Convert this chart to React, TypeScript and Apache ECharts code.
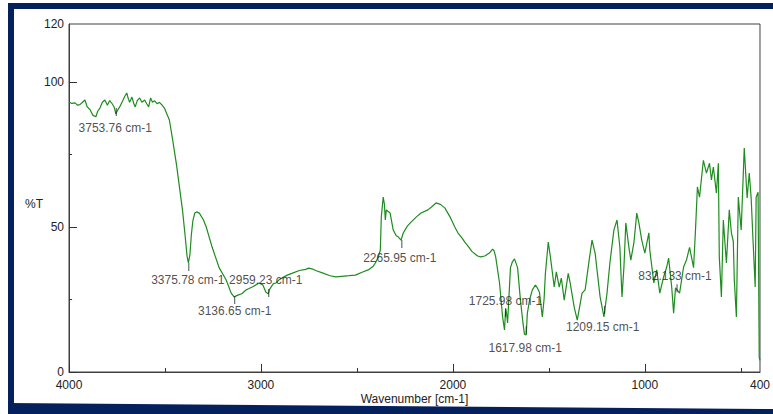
import React, { useEffect, useRef } from "react";
import * as echarts from "echarts";

// Wavenumber (cm-1) and %T
const wavenumbers = [
  4000, 3985, 3969, 3955, 3943, 3930, 3917, 3905, 3891, 3875, 3860, 3850, 3839, 3826, 3813, 3800,
  3788, 3775, 3765, 3756, 3745, 3736, 3720, 3710, 3699, 3690, 3684, 3672, 3662, 3655, 3645, 3632,
  3620, 3606, 3595, 3585, 3575, 3565, 3554, 3540, 3529, 3515, 3503, 3490, 3477, 3461, 3440, 3425,
  3409, 3395, 3385, 3378, 3370, 3363, 3355, 3345, 3335, 3321, 3300, 3285, 3254, 3218, 3181, 3155,
  3140, 3120, 3100, 3078, 3062, 3040, 3010, 2990, 2974, 2962, 2955, 2945, 2935, 2922, 2907, 2880,
  2860, 2839, 2800, 2767, 2751, 2730, 2715, 2680, 2640, 2611, 2580, 2540, 2508, 2470, 2441, 2415,
  2404, 2390, 2378, 2373, 2363, 2357, 2352, 2347, 2340, 2327, 2311, 2295, 2285, 2270, 2258, 2249,
  2235, 2218, 2190, 2166, 2130, 2110, 2088, 2065, 2042, 2015, 1990, 1974, 1950, 1938, 1922, 1900,
  1871, 1855, 1834, 1810, 1793, 1785, 1777, 1757, 1745, 1741, 1731, 1725, 1720, 1715, 1700, 1690,
  1679, 1663, 1648, 1635, 1627, 1618, 1612, 1600, 1586, 1570, 1560, 1549, 1534, 1525, 1518, 1503,
  1492, 1472, 1461, 1446, 1435, 1420, 1399, 1389, 1368, 1352, 1327, 1311, 1290, 1275, 1259, 1233,
  1213, 1197, 1182, 1161, 1145, 1130, 1119, 1109, 1099, 1083, 1073, 1057, 1042, 1031, 1016, 1000,
  979, 974, 953, 938, 922, 902, 886, 876, 860, 850, 840, 819, 798, 783, 767, 746,
  736, 726, 715, 695, 679, 663, 653, 643, 627, 617, 612, 601, 591, 575, 560, 549,
  539, 534, 523, 513, 498, 482, 467, 456, 446, 436, 425, 420, 410, 404, 400,
];
const transmittance = [
  93.1, 92.6, 92.8, 92.0, 92.2, 93.0, 93.8, 91.4, 90.5, 88.5, 88.0, 90.0, 91.0, 93.0, 93.8, 92.0,
  93.6, 92.5, 91.4, 89.0, 90.5, 91.4, 93.5, 95.0, 96.2, 94.0, 93.0, 94.8, 92.5, 91.4, 93.5, 94.5,
  93.0, 93.8, 92.5, 91.4, 94.5, 93.0, 93.5, 92.5, 93.0, 92.0, 91.0, 89.0, 86.9, 80.5, 71.5, 64.0,
  56.0, 47.0, 40.0, 37.6, 40.5, 47.0, 52.0, 54.8, 55.2, 54.8, 52.5, 50.0, 43.0, 36.0, 31.7, 27.2,
  25.9, 26.5, 27.0, 28.3, 28.8, 29.5, 30.7, 30.0, 27.5, 27.0, 28.5, 29.5, 30.5, 30.7, 31.7, 32.8,
  33.5, 34.0, 35.0, 35.4, 35.8, 35.5, 35.0, 34.2, 33.2, 32.8, 33.0, 33.2, 33.4, 34.5, 35.2, 36.5,
  37.6, 39.5, 42.0, 53.4, 60.3, 58.0, 52.4, 55.9, 55.5, 54.8, 49.0, 47.0, 46.6, 45.5, 48.0, 49.0,
  50.5, 51.7, 53.5, 54.8, 55.9, 57.0, 58.3, 57.8, 56.6, 53.5, 50.0, 48.0, 46.0, 44.8, 43.5, 41.5,
  40.0, 39.7, 40.0, 41.0, 42.4, 41.8, 39.7, 30.7, 22.0, 19.0, 14.5, 22.0, 20.0, 16.9, 36.0, 38.0,
  39.0, 36.0, 24.8, 17.0, 13.0, 12.8, 20.3, 25.0, 28.3, 30.0, 29.0, 27.5, 19.0, 25.0, 34.0, 44.8,
  39.7, 29.3, 34.5, 29.3, 32.4, 24.8, 34.0, 30.7, 22.4, 17.9, 27.2, 28.3, 38.6, 45.5, 41.0, 25.9,
  19.0, 27.2, 37.6, 49.0, 52.4, 43.0, 25.9, 36.0, 51.4, 43.0, 38.6, 44.5, 54.8, 51.4, 45.5, 41.0,
  48.0, 42.0, 30.7, 35.2, 27.2, 32.8, 36.2, 39.3, 29.3, 20.3, 29.0, 27.2, 36.2, 38.6, 43.0, 36.0,
  49.0, 63.8, 60.3, 73.0, 68.6, 72.0, 66.2, 70.7, 61.7, 72.0, 39.7, 25.9, 52.4, 37.6, 55.9, 48.0,
  45.0, 32.0, 19.0, 60.3, 49.0, 77.2, 60.0, 68.6, 60.0, 45.0, 29.3, 60.3, 62.0, 5.0, 4.0,
];

// Peak picks
const peakWavenumbers = [3753.76, 3375.78, 3136.65, 2959.23, 2265.95, 1725.98, 1617.98, 1209.15, 832.133];
const peakTransmittance = [91.0, 37.6, 26.2, 28.6, 45.5, 21.7, 15.9, 22.8, 30.3];
const peakLabels = ["3753.76 cm-1", "3375.78 cm-1", "3136.65 cm-1", "2959.23 cm-1", "2265.95 cm-1",
  "1725.98 cm-1", "1617.98 cm-1", "1209.15 cm-1", "832.133 cm-1"];

// Tick labels and tick marks
const xTickLabels = [4000, 3000, 2000, 1000, 400];
const yTickLabels = [0, 50, 100, 120];
const xMajorTicks = [4000, 3000, 2000, 1000];
const xMinorTicks = [3500, 2500, 1500, 500];
const yMajorTicks = [0, 50, 100];
const yMinorTicks = [25, 75];

const FONT = "'Liberation Sans', Arial, sans-serif";
const TEXT = "#222";
const AXIS = "#404040";
const TICK = "#333";
const NAVY = "#04215e";

export default function App() {
  const ref = useRef<HTMLDivElement>(null);
  useEffect(() => {
    if (!ref.current) return;
    const chart = echarts.init(ref.current, undefined, { renderer: "svg" });
    const labelOffsets = [[-1, 15.5], [-1, 13], [0, 10.5], [-3, -13], [-2, 14], [0, -12.5], [-1, 18], [-2, 17], [-2, -12]];
    // tick lengths in data units (about 8 px major / 4 px minor)
    const X_MAJ = 2.8, X_MIN = 1.4; // %T units for ticks on the x axis
    const Y_MAJ = 42, Y_MIN = 16; // cm-1 units for ticks on the y axis
    const spectrum = wavenumbers.map((w, i) => [w, transmittance[i]]);
    const peaks = peakWavenumbers.map((w, i) => ({
      value: [w, peakTransmittance[i]],
      label: { offset: labelOffsets[i] },
    }));
    const tickLines = [
      ...xMajorTicks.map((w) => [{ coord: [w, 0] }, { coord: [w, X_MAJ] }]),
      ...xMinorTicks.map((w) => [{ coord: [w, 0] }, { coord: [w, X_MIN] }]),
      ...yMajorTicks.map((t) => [{ coord: [4000, t] }, { coord: [4000 - Y_MAJ, t] }]),
      ...yMinorTicks.map((t) => [{ coord: [4000, t] }, { coord: [4000 - Y_MIN, t] }]),
    ];
    const txt = { fontFamily: FONT, fontSize: 12, color: TEXT };
    const hidden = { show: false };
    const line = { show: true, onZero: false, lineStyle: { color: AXIS, width: 1 } };
    const xLbl = (v: number) => (xTickLabels.includes(4000 - v) ? String(4000 - v) : "");
    chart.setOption({
      animation: false,
      backgroundColor: "#fff",
      grid: { left: 69, right: 10, top: 24, bottom: 42, show: true, borderColor: AXIS, borderWidth: 1 },
      xAxis: [
        {
          type: "value", min: 400, max: 4000, inverse: true, position: "bottom",
          axisLine: line,
          axisTick: hidden, axisLabel: hidden, splitLine: hidden,
          name: "Wavenumber [cm-1]", nameLocation: "middle", nameGap: 21, nameTextStyle: txt,
        },
        {
          type: "value", min: 0, max: 3600, interval: 200, position: "bottom",
          axisLine: { show: false, onZero: false }, axisTick: hidden, splitLine: hidden,
          axisLabel: { ...txt, margin: 7, formatter: xLbl, showMinLabel: true, showMaxLabel: true },
        },
      ],
      yAxis: [
        {
          type: "value", min: 0, max: 120, position: "left",
          axisLine: line,
          axisTick: hidden, axisLabel: hidden, splitLine: hidden,
          name: "%T", nameLocation: "middle", nameRotate: 0, nameGap: 26,
          nameTextStyle: { ...txt, verticalAlign: "top" },
        },
        {
          type: "value", min: 0, max: 120, interval: 10, position: "left",
          axisLine: { show: false, onZero: false }, axisTick: hidden, splitLine: hidden,
          axisLabel: { ...txt, margin: 5, formatter: (v: number) => (yTickLabels.includes(v) ? String(v) : ""), showMinLabel: true, showMaxLabel: true },
        },
      ],
      series: [
        {
          type: "line", xAxisIndex: 0, yAxisIndex: 0, data: spectrum,
          showSymbol: false, symbol: "none",
          lineStyle: { color: "#1e8c1e", width: 1.2 },
          z: 2,
          markLine: {
            silent: true, symbol: "none", animation: false,
            label: { show: false },
            emphasis: { disabled: true },
            lineStyle: { color: TICK, type: "solid", width: 1 },
            data: tickLines,
          },
        },
        {
          type: "scatter", xAxisIndex: 0, yAxisIndex: 0, data: peaks,
          symbol: "rect", symbolSize: [1, 8], symbolOffset: [0, 4],
          itemStyle: { color: "#222" },
          label: {
            show: true, position: "inside", ...txt,
            formatter: (p: any) => peakLabels[p.dataIndex],
          },
          z: 3,
        },
      ],
      graphic: [
        { type: "rect", shape: { x: 8, y: 3, width: 6, height: 411 }, style: { fill: NAVY }, silent: true },
        { type: "rect", shape: { x: 8, y: 3, width: 765, height: 6 }, style: { fill: NAVY }, silent: true },
        { type: "polygon", shape: { points: [[8, 403], [773, 409], [773, 414], [8, 414]] }, style: { fill: NAVY }, silent: true },
      ],
    });
    return () => chart.dispose();
  }, []);
  return (
    <div
      ref={ref}
      style={{ position: "absolute", left: 0, top: 0, width: 773, height: 414, background: "#fff" }}
    />
  );
}
